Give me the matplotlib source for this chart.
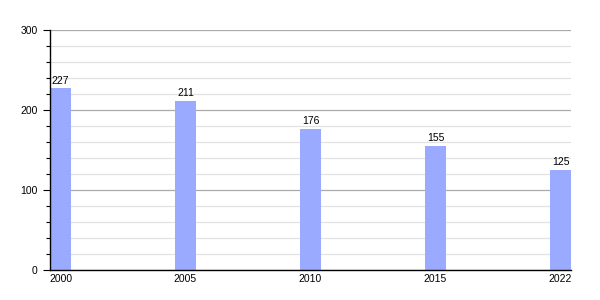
import matplotlib.pyplot as plt
from matplotlib.ticker import MultipleLocator

plt.rcParams['font.family'] = ['Liberation Sans', 'DejaVu Sans']

years = ['2000', '2005', '2010', '2015', '2022']
values = [227, 211, 176, 155, 125]

fig = plt.figure(figsize=(6, 3), dpi=100)
ax = fig.add_axes([50 / 600, 0.1, 521 / 600, 0.8])

pos = list(range(len(years)))
bw = 0.168
bars = ax.bar(pos, values, width=bw, align='edge', color='#99aaff', zorder=3)
for p, v in zip(pos, values):
    ax.annotate(str(v), (p + bw / 2, v), xytext=(0, 2), textcoords='offset points',
                ha='center', va='bottom', fontsize=7.5)

ax.set_xlim(0, 4 + bw)
ax.set_ylim(0, 300)
ax.set_xticks([p + bw / 2 for p in pos])
ax.set_xticklabels(years)
ax.yaxis.set_major_locator(MultipleLocator(100))
ax.yaxis.set_minor_locator(MultipleLocator(20))
ax.grid(axis='y', which='major', color='#aaaaaa', lw=0.9, zorder=1)
ax.grid(axis='y', which='minor', color='#e2e2e2', lw=0.9, zorder=0)
ax.tick_params(axis='x', length=0, pad=3, labelsize=7.5)
ax.tick_params(axis='y', which='major', length=5, width=0.8, pad=4, labelsize=7.5)
ax.tick_params(axis='y', which='minor', length=3, width=0.8)
for s in ['top', 'right']:
    ax.spines[s].set_visible(False)
for s in ['left', 'bottom']:
    ax.spines[s].set_linewidth(1)
    ax.spines[s].set_zorder(4)

plt.savefig('out.png')
